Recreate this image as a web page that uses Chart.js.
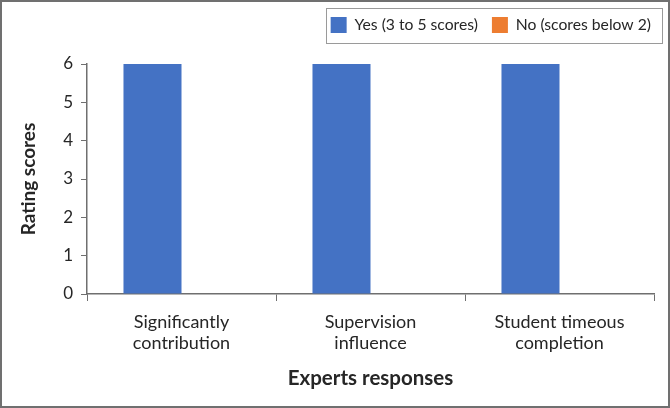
<!DOCTYPE html>
<html>
<head>
<meta charset="utf-8">
<script src="https://cdn.jsdelivr.net/npm/chart.js@4.4.1/dist/chart.umd.min.js"></script>
<style>
  html, body { margin: 0; padding: 0; background: #fff; }
  #wrap { width: 670px; height: 408px; position: relative; }
</style>
</head>
<body>
<div id="wrap"><canvas id="ratingChart" width="670" height="408"></canvas></div>
<script>
// donnees du graphique
const categories = [['Significantly', 'contribution'], ['Supervision', 'influence'], ['Student timeous', 'completion']];
const yesValues = [6, 6, 6];
const noValues = [0, 0, 0];
const yTicks = [0, 1, 2, 3, 4, 5, 6];

const FONT = 'Lato, "Open Sans", sans-serif';
const TEXT = '#262626';
const AXIS = '#6f6f6f';

// hauteur fixe de la legende + decalage vers la droite
const legendPlacement = {
    id: 'legendPlacement',
    beforeInit(chart) {
        const fit = chart.legend.fit;
        chart.legend.fit = function () {
            fit.bind(chart.legend)();
            this.height = 61;
        };
    },
    afterLayout(chart) {
        chart.legend.left += 11;
        chart.legend.right += 11;
    }
};

// cadre exterieur + cadre de la legende
const framePlugin = {
    id: 'frame',
    afterDraw(chart) {
        const ctx = chart.ctx;
        ctx.save();
        ctx.strokeStyle = '#707070';
        ctx.lineWidth = 2;
        ctx.strokeRect(1, 1, chart.width - 2, chart.height - 2);
        ctx.strokeStyle = '#9a9a9a';
        ctx.lineWidth = 1;
        ctx.strokeRect(326.5, 8.5, 336, 35);
        ctx.restore();
    }
};

const initChart = () => {
    const ctx = document.getElementById('ratingChart').getContext('2d');
    return new Chart(ctx, {
        type: 'bar',
        data: {
            labels: categories,
            datasets: [
                { label: 'Yes (3 to 5 scores)', data: yesValues, backgroundColor: '#4472C4' },
                { label: 'No (scores below 2)', data: noValues, backgroundColor: '#ED7D31' }
            ]
        },
        options: {
            responsive: false,
            animation: false,
            layout: { padding: { top: 3, right: 16, left: 13, bottom: 12 } },
            datasets: { bar: { categoryPercentage: 0.614, barPercentage: 1 } },
            plugins: {
                tooltip: { enabled: false },
                legend: {
                    position: 'top',
                    align: 'end',
                    labels: {
                        color: TEXT,
                        font: { family: FONT, size: 15.7 },
                        boxWidth: 16,
                        boxHeight: 16,
                        padding: 14
                    }
                }
            },
            scales: {
                x: {
                    grid: { display: true, drawOnChartArea: false, drawTicks: true, tickLength: 7, offset: true, color: AXIS },
                    border: { color: AXIS, width: 1.5 },
                    ticks: { color: TEXT, font: { family: FONT, size: 18 }, maxRotation: 0, padding: 10 },
                    title: { display: true, text: 'Experts responses', color: TEXT, font: { family: FONT, size: 20.5, weight: 'bold' }, padding: { top: 4, bottom: 5 } },
                    afterFit(scale) { scale.height = 102; }
                },
                y: {
                    min: 0,
                    max: 6,
                    afterBuildTicks(scale) { scale.ticks = yTicks.map(v => ({ value: v })); },
                    grid: { display: true, drawOnChartArea: false, drawTicks: true, tickLength: 6, color: AXIS },
                    border: { color: AXIS, width: 1.5 },
                    ticks: { color: TEXT, font: { family: FONT, size: 17 }, padding: 8 },
                    title: { display: true, text: 'Rating scores', color: TEXT, font: { family: FONT, size: 19, weight: 'bold' }, padding: { bottom: 10 } },
                    afterFit(scale) { scale.width = 74; }
                }
            }
        },
        plugins: [legendPlacement, framePlugin]
    });
};

initChart();
</script>
</body>
</html>
